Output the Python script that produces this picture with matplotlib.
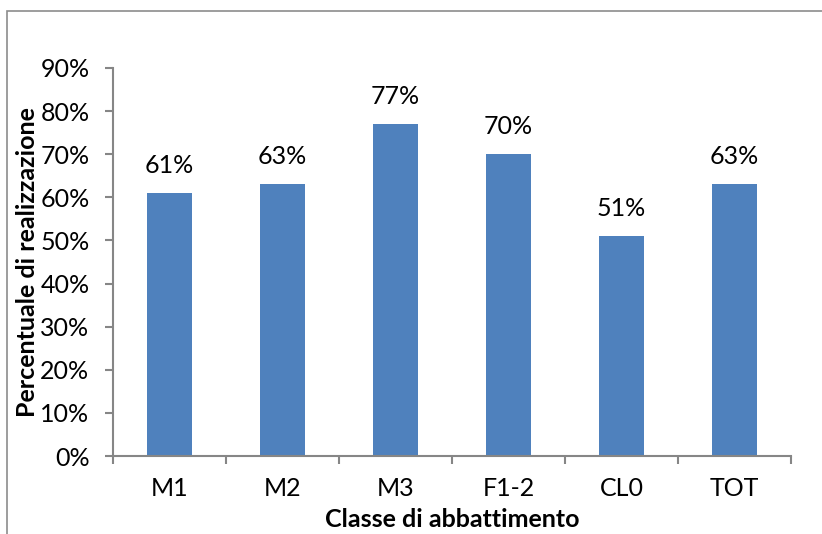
import matplotlib
matplotlib.use("Agg")
from matplotlib import pyplot as plt
from matplotlib.patches import Rectangle
from matplotlib.ticker import MultipleLocator, FuncFormatter

categories = ['M1', 'M2', 'M3', 'F1-2', 'CL0', 'TOT']
values = [0.61, 0.63, 0.77, 0.70, 0.51, 0.63]
bar_labels = ['61%', '63%', '77%', '70%', '51%', '63%']

plt.rcParams['font.family'] = ['Lato', 'DejaVu Sans']
axis_grey = '#868686'
bar_color = '#4F81BD'
fs = 18

fig = plt.figure(figsize=(8.22, 5.34), dpi=100)
ax = fig.add_axes([113/822, 78/534, (791-113)/822, (456-68)/534])

x = list(range(len(categories)))
ax.bar(x, values, width=0.4, color=bar_color)

for xi, v, lab in zip(x, values, bar_labels):
    ax.annotate(lab, (xi, v), xytext=(0, 20), textcoords='offset points',
                ha='center', va='center', fontsize=fs)

ax.set_xlim(-0.5, len(categories) - 0.5)
ax.set_ylim(0, 0.9)
ax.yaxis.set_major_locator(MultipleLocator(0.1))
ax.yaxis.set_major_formatter(FuncFormatter(lambda v, p: '{:.0f}%'.format(v * 100)))

# x ticks sit between the categories, labels centered under the bars
ax.set_xticks([i - 0.5 for i in range(len(categories) + 1)])
ax.set_xticklabels([])
ax.set_xticks(x, minor=True)
ax.set_xticklabels(categories, minor=True, fontsize=fs)
ax.tick_params(axis='x', which='minor', length=0, pad=15)
ax.tick_params(axis='x', which='major', length=6, width=1.5, color=axis_grey, direction='out')
ax.tick_params(axis='y', length=6, width=1.5, color=axis_grey, direction='out', labelsize=fs, pad=11)

for s in ['top', 'right']:
    ax.spines[s].set_visible(False)
for s in ['left', 'bottom']:
    ax.spines[s].set_color(axis_grey)
    ax.spines[s].set_linewidth(1.5)

ax.set_ylabel('Percentuale di realizzazione', fontsize=fs, fontweight='bold', labelpad=1)
ax.set_xlabel('Classe di abbattimento', fontsize=fs, fontweight='bold', labelpad=6)

# chart area border (clipped at right and bottom like the screenshot)
fig.patches.append(Rectangle((7/822, -0.2), 1.5, (534-11.5)/534 + 0.2,
                             transform=fig.transFigure, fill=False,
                             edgecolor='#8c8c8c', linewidth=1.2))

fig.savefig('out.png', dpi=100)
